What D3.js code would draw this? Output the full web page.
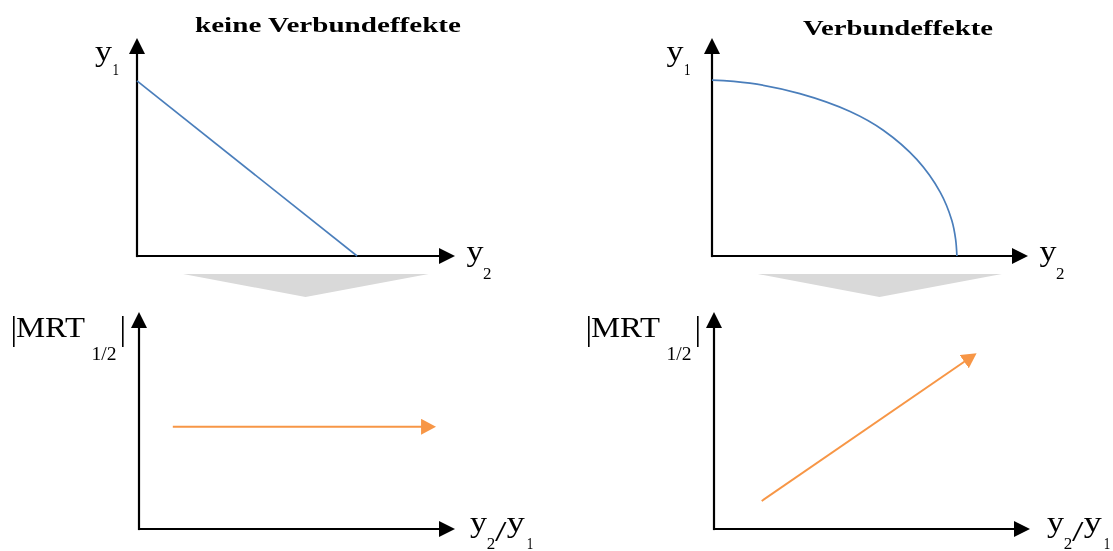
<!DOCTYPE html>
<html><head><meta charset="utf-8">
<script src="https://cdn.jsdelivr.net/npm/d3@7"></script>
<style>html,body{margin:0;padding:0;background:#fff;}svg{display:block;will-change:transform;}</style>
</head><body>
<svg id="chart" width="1113" height="551"></svg>
<script>
// ---- data (axis units 0..10, axis tip = 10) ----
const titles = ["keine Verbundeffekte", "Verbundeffekte"];
// production possibility frontiers: [y2, y1]
const frontierNoScope = [[0, 8.03], [6.92, 0]];
const frontierScope = [[0, 8.07], [1.2, 7.93], [2.78, 7.45], [4.37, 6.63], [5.42, 5.77],
                       [6.48, 4.43], [7.22, 2.93], [7.59, 1.63], [7.71, 0.76], [7.75, 0]];
// |MRT| vs y2/y1 : [y2/y1, |MRT|]
const mrtNoScope = [[1.07, 4.71], [9.40, 4.71]];
const mrtScope = [[1.51, 1.29], [8.31, 8.10]];
const axisLabelsTop = [["y", "1"], ["y", "2"]];
const axisLabelsBottom = [["MRT", "1/2", "|"], ["y", "2", "/y", "1"]];

const BLUE = "#4a7ebb", ORANGE = "#f79646", GREY = "#d9d9d9";
const FONT = "'Liberation Serif', 'DejaVu Serif', serif";

const svg = d3.select("#chart");
const defs = svg.append("defs");
function marker(id, color, len) {
  defs.append("marker").attr("id", id).attr("markerUnits", "userSpaceOnUse")
    .attr("viewBox", `0 -8 ${len} 16`).attr("markerWidth", len).attr("markerHeight", 16)
    .attr("refX", len / 2).attr("refY", 0).attr("orient", "auto")
    .append("path").attr("d", `M0,-8L${len},0L0,8Z`).attr("fill", color);
}
marker("axArrow", "#000", 16);
marker("orArrow", ORANGE, 15);

// panel scales
const panels = [
  {x: d3.scaleLinear([0, 10], [137, 455]), y: d3.scaleLinear([0, 10], [256, 38])},
  {x: d3.scaleLinear([0, 10], [712, 1028]), y: d3.scaleLinear([0, 10], [256, 38])},
  {x: d3.scaleLinear([0, 10], [139, 455]), y: d3.scaleLinear([0, 10], [529, 312])},
  {x: d3.scaleLinear([0, 10], [714, 1030]), y: d3.scaleLinear([0, 10], [529, 312])}
];

function drawAxes(p) {
  const g = svg.append("g");
  const x0 = p.x(0), y0 = p.y(0);
  g.append("line").attr("x1", x0).attr("y1", y0).attr("x2", p.x(10) - 8).attr("y2", y0)
    .attr("stroke", "#000").attr("stroke-width", 2.2).attr("marker-end", "url(#axArrow)");
  g.append("line").attr("x1", x0).attr("y1", y0 + 1.1).attr("x2", x0).attr("y2", p.y(10) + 8)
    .attr("stroke", "#000").attr("stroke-width", 2.2).attr("marker-end", "url(#axArrow)");
}

// grey connector triangles (between top and bottom panels)
[panels[0], panels[1]].forEach(p => {
  const y0 = p.y(0);
  const pts = [[p.x(1.45), y0 + 18], [p.x(9.17), y0 + 18], [p.x(5.3), y0 + 41]];
  svg.append("path").attr("d", "M" + pts.join("L") + "Z").attr("fill", GREY);
});

panels.forEach(drawAxes);

// frontiers
const line0 = d3.line().x(d => panels[0].x(d[0])).y(d => panels[0].y(d[1]));
svg.append("path").attr("d", line0(frontierNoScope)).attr("fill", "none")
  .attr("stroke", BLUE).attr("stroke-width", 1.7);
const line1 = d3.line().x(d => panels[1].x(d[0])).y(d => panels[1].y(d[1])).curve(d3.curveCatmullRom.alpha(0.5));
svg.append("path").attr("d", line1(frontierScope)).attr("fill", "none")
  .attr("stroke", BLUE).attr("stroke-width", 1.7);

// MRT arrows
[[panels[2], mrtNoScope], [panels[3], mrtScope]].forEach(([p, d]) => {
  const a = d[0], b = d[1];
  const x1 = p.x(a[0]), y1 = p.y(a[1]), x2 = p.x(b[0]), y2 = p.y(b[1]);
  const L = Math.hypot(x2 - x1, y2 - y1), ux = (x2 - x1) / L, uy = (y2 - y1) / L;
  svg.append("line").attr("x1", x1).attr("y1", y1)
    .attr("x2", x2 - ux * 7.5).attr("y2", y2 - uy * 7.5)
    .attr("stroke", ORANGE).attr("stroke-width", 2).attr("marker-end", "url(#orArrow)");
});

// text helper
function txt(t, x, y, size, len, weight) {
  const e = svg.append("text").attr("x", x).attr("y", y).attr("font-family", FONT)
    .attr("font-size", size).attr("fill", "#000").text(t);
  if (weight) e.attr("font-weight", weight);
  if (len) e.attr("textLength", len).attr("lengthAdjust", "spacingAndGlyphs");
  return e;
}

// titles
txt(titles[0], 195, 31.5, 20, 266, "bold");
txt(titles[1], 803, 35, 20, 190, "bold");

// top axis labels
[[0, 95], [1, 666.5]].forEach(([i, dx]) => {
  const p = panels[i];
  txt(axisLabelsTop[0][0], dx, 61, 29, 17);
  txt(axisLabelsTop[0][1], dx + 17.5, 74.5, 16, 6.5);
  const xx = p.x(10) + 11.5;
  txt(axisLabelsTop[1][0], xx, 260.5, 29, 17);
  txt(axisLabelsTop[1][1], xx + 16.5, 278.5, 16, 8.5);
});

// bottom labels
[[2, 0], [3, 575]].forEach(([i, off]) => {
  const m = axisLabelsBottom[0];
  txt("|", 10.5 + off, 340, 33);
  txt(m[0], 16 + off, 337, 30, 69);
  txt(m[1], 91.5 + off, 360, 18, 25);
  txt(m[2], 119.5 + off, 340, 33);
  const q = axisLabelsBottom[1];
  const bx = 470 + off + (i === 3 ? 2 : 0);
  txt(q[0], bx, 532, 29, 17);
  txt(q[1], bx + 16.7, 548.5, 16, 8.5);
  txt("/", bx + 25, 541, 29, 11.5);
  txt(q[2].slice(1), bx + 36.7, 532, 29, 18);
  txt(q[3], bx + 56.7, 548.5, 16, 6.5);
});
</script>
</body></html>
